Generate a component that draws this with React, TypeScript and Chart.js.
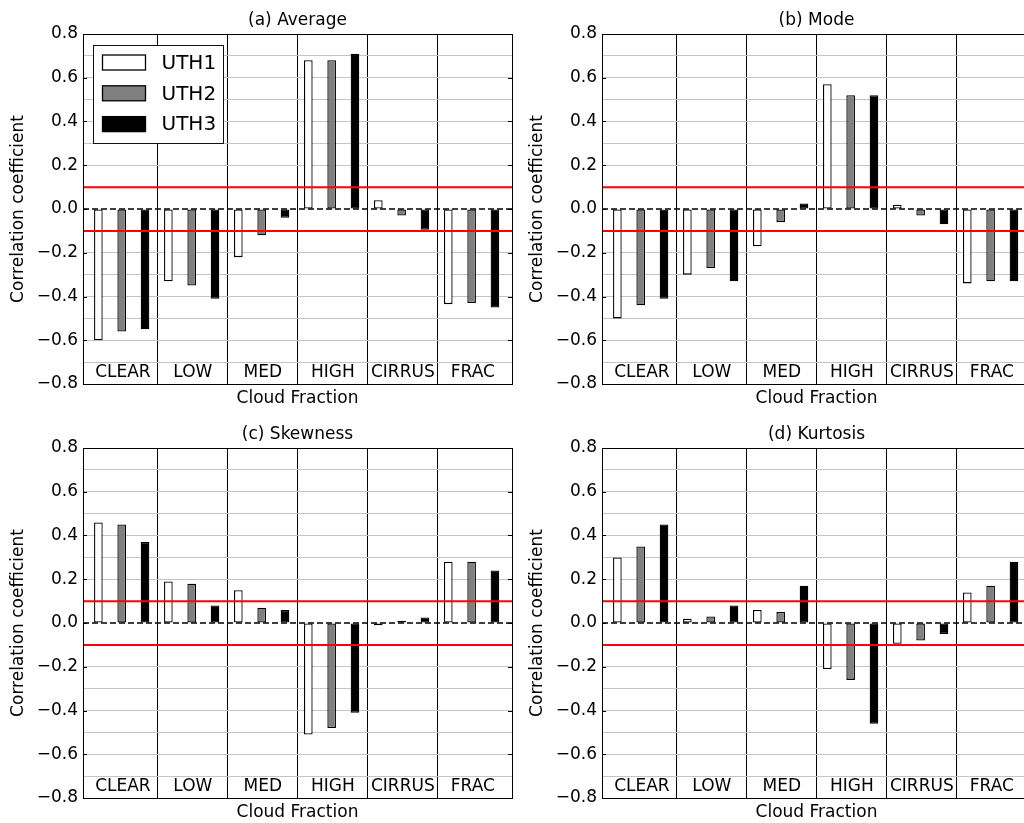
import React, { useEffect, useRef } from "react";
import { Chart, registerables } from "chart.js";

Chart.register(...registerables);
Chart.defaults.font.family = '"DejaVu Sans", sans-serif';
Chart.defaults.font.size = 17;
Chart.defaults.color = "#000";

// ---------- data ----------
const CATEGORIES = ["CLEAR", "LOW", "MED", "HIGH", "CIRRUS", "FRAC"];
const SERIES_NAMES = ["UTH1", "UTH2", "UTH3"];
const SERIES_COLORS = ["#ffffff", "#808080", "#000000"];

const AVG_UTH1 = [-0.6, -0.33, -0.22, 0.68, 0.04, -0.435];
const AVG_UTH2 = [-0.56, -0.35, -0.12, 0.68, -0.03, -0.43];
const AVG_UTH3 = [-0.55, -0.41, -0.04, 0.71, -0.095, -0.45];

const MODE_UTH1 = [-0.5, -0.3, -0.17, 0.57, 0.02, -0.34];
const MODE_UTH2 = [-0.44, -0.27, -0.06, 0.52, -0.03, -0.33];
const MODE_UTH3 = [-0.41, -0.33, 0.025, 0.52, -0.07, -0.33];

const SKEW_UTH1 = [0.46, 0.19, 0.15, -0.51, -0.01, 0.28];
const SKEW_UTH2 = [0.45, 0.18, 0.07, -0.48, 0.01, 0.28];
const SKEW_UTH3 = [0.37, 0.08, 0.06, -0.41, 0.025, 0.24];

const KURT_UTH1 = [0.3, 0.02, 0.06, -0.21, -0.095, 0.14];
const KURT_UTH2 = [0.35, 0.03, 0.05, -0.26, -0.08, 0.17];
const KURT_UTH3 = [0.45, 0.08, 0.17, -0.46, -0.05, 0.28];

const THRESHOLDS = [0.1, -0.1];
const Y_MIN = -0.8;
const Y_MAX = 0.8;
const Y_MAJOR_TICKS = [-0.8, -0.6, -0.4, -0.2, 0, 0.2, 0.4, 0.6, 0.8];
const SEPARATORS = [1, 2, 3, 4, 5];
const X_MIN = -0.07;
const X_MAX = 6.06;
const BAR_GROUP_CENTER = 0.483; // position of each bar group inside its category
const LABEL_CENTER = 0.5;
const CATEGORY_LABEL_Y = -0.75;

const Y_TITLE = "Correlation coefficient";
const X_TITLE = "Cloud Fraction";

type PanelCfg = {
  title: string;
  series: number[][];
  legend: boolean;
  left: number;
  top: number;
};

const PANELS: PanelCfg[] = [
  { title: "(a) Average", series: [AVG_UTH1, AVG_UTH2, AVG_UTH3], legend: true, left: 0, top: 0 },
  { title: "(b) Mode", series: [MODE_UTH1, MODE_UTH2, MODE_UTH3], legend: false, left: 519, top: 0 },
  { title: "(c) Skewness", series: [SKEW_UTH1, SKEW_UTH2, SKEW_UTH3], legend: false, left: 0, top: 414 },
  { title: "(d) Kurtosis", series: [KURT_UTH1, KURT_UTH2, KURT_UTH3], legend: false, left: 519, top: 414 },
];

const W = 520;
const H = 414;

function fmt(v: number): string {
  const r = Math.round(v * 10);
  if (r === 0) return "0.0";
  const s = Math.abs(v).toFixed(1);
  return r < 0 ? "\u2212" + s : s;
}

function makeOverlay(title: string, showLegend: boolean) {
  return {
    id: "overlay",
    afterDatasetsDraw(chart: any) {
      const { ctx, chartArea: a, scales } = chart;
      const x = scales.x;
      const y = scales.y;
      ctx.save();
      // zero dashed line
      const y0 = y.getPixelForValue(0);
      ctx.strokeStyle = "#000";
      ctx.lineWidth = 1.5;
      ctx.setLineDash([6, 3]);
      ctx.beginPath();
      ctx.moveTo(a.left, y0);
      ctx.lineTo(a.right, y0);
      ctx.stroke();
      ctx.setLineDash([]);
      // threshold lines
      ctx.strokeStyle = "#ff0000";
      ctx.lineWidth = 2;
      THRESHOLDS.forEach((t) => {
        const py = y.getPixelForValue(t);
        ctx.beginPath();
        ctx.moveTo(a.left, py);
        ctx.lineTo(a.right, py);
        ctx.stroke();
      });
      // major tick marks
      ctx.strokeStyle = "#000";
      ctx.lineWidth = 1;
      Y_MAJOR_TICKS.forEach((v) => {
        const py = Math.round(y.getPixelForValue(v)) + 0.5;
        ctx.beginPath();
        ctx.moveTo(a.left, py);
        ctx.lineTo(a.left + 4, py);
        ctx.moveTo(a.right - 4, py);
        ctx.lineTo(a.right, py);
        ctx.stroke();
      });
      // frame
      ctx.strokeRect(Math.round(a.left) + 0.5, Math.round(a.top) + 0.5, Math.round(a.right - a.left), Math.round(a.bottom - a.top));
      // category labels
      ctx.fillStyle = "#000";
      ctx.font = '17px "DejaVu Sans", sans-serif';
      ctx.textAlign = "center";
      ctx.textBaseline = "middle";
      const ly = y.getPixelForValue(CATEGORY_LABEL_Y);
      CATEGORIES.forEach((c, i) => {
        ctx.fillText(c, x.getPixelForValue(i + LABEL_CENTER), ly);
      });
      // title
      ctx.fillText(title, (a.left + a.right) / 2, a.top - 13.5);
      // legend
      if (showLegend) {
        const bx = a.left + 10.5;
        const by = a.top + 11.5;
        const bw = 130;
        const bh = 98;
        ctx.fillStyle = "#fff";
        ctx.fillRect(bx, by, bw, bh);
        ctx.strokeStyle = "#111";
        ctx.lineWidth = 1;
        ctx.strokeRect(bx, by, bw, bh);
        ctx.font = '20px "DejaVu Sans", sans-serif';
        ctx.textAlign = "left";
        chart.data.datasets.forEach((ds: any, i: number) => {
          const cy = by + 17 + i * 30.8;
          ctx.fillStyle = ds.backgroundColor;
          ctx.fillRect(bx + 9, cy - 7.5, 43, 15);
          ctx.strokeStyle = "#000";
          ctx.lineWidth = 1.3;
          ctx.strokeRect(bx + 9, cy - 7.5, 43, 15);
          ctx.fillStyle = "#000";
          ctx.fillText(ds.label, bx + 68, cy + 1);
        });
      }
      ctx.restore();
    },
  };
}

function Panel({ cfg }: { cfg: PanelCfg }) {
  const ref = useRef<HTMLCanvasElement>(null);
  useEffect(() => {
    const datasets = cfg.series.map((vals, s) => ({
      label: SERIES_NAMES[s],
      data: vals.map((v, i) => ({ x: i + BAR_GROUP_CENTER, y: v })),
      backgroundColor: SERIES_COLORS[s],
      borderColor: "#000",
      borderWidth: 1.3,
      borderSkipped: false as const,
      barPercentage: 0.37,
      categoryPercentage: 1.0,
    }));
    const chart = new Chart(ref.current as HTMLCanvasElement, {
      type: "bar",
      data: { datasets },
      options: {
        animation: false,
        responsive: false,
        maintainAspectRatio: false,
        layout: { padding: { top: 34, right: 8, left: 0, bottom: 0 } },
        plugins: { legend: { display: false }, tooltip: { enabled: false }, title: { display: false } },
        scales: {
          x: {
            type: "linear",
            min: X_MIN,
            max: X_MAX,
            offset: false,
            afterBuildTicks: (scale: any) => {
              scale.ticks = SEPARATORS.map((v) => ({ value: v }));
            },
            afterFit: (scale: any) => {
              scale.height = 30;
            },
            ticks: { display: false },
            grid: { offset: false, color: "#000", lineWidth: 1, drawTicks: false },
            border: { display: false },
            title: { display: true, text: X_TITLE, font: { size: 17 }, padding: { top: 0, bottom: 4.8 } },
          },
          y: {
            type: "linear",
            min: Y_MIN,
            max: Y_MAX,
            afterFit: (scale: any) => {
              scale.width = 83;
            },
            ticks: {
              stepSize: 0.1,
              autoSkip: false,
              padding: 5,
              font: { size: 17 },
              callback: (v: any) => (Math.round(Number(v) * 10) % 2 === 0 ? fmt(Number(v)) : ""),
            },
            grid: {
              drawTicks: false,
              lineWidth: 1,
              color: (c: any) => (c.tick && Math.abs(c.tick.value) < 1e-9 ? "rgba(0,0,0,0)" : "#c4c4c4"),
            },
            border: { display: false },
            title: { display: true, text: Y_TITLE, font: { size: 17 }, padding: { top: 8.3, bottom: 0 } },
          },
        },
      },
      plugins: [makeOverlay(cfg.title, cfg.legend)],
    } as any);
    return () => chart.destroy();
  }, [cfg]);
  return (
    <canvas
      ref={ref}
      width={W}
      height={H}
      style={{ position: "absolute", left: cfg.left, top: cfg.top, width: W, height: H, display: "block" }}
    />
  );
}

export default function App() {
  return (
    <div
      style={{
        position: "absolute",
        left: 0,
        top: 0,
        width: 1024,
        height: 823,
        overflow: "hidden",
        background: "#fff",
      }}
    >
      {PANELS.map((p) => (
        <Panel key={p.title} cfg={p} />
      ))}
    </div>
  );
}
